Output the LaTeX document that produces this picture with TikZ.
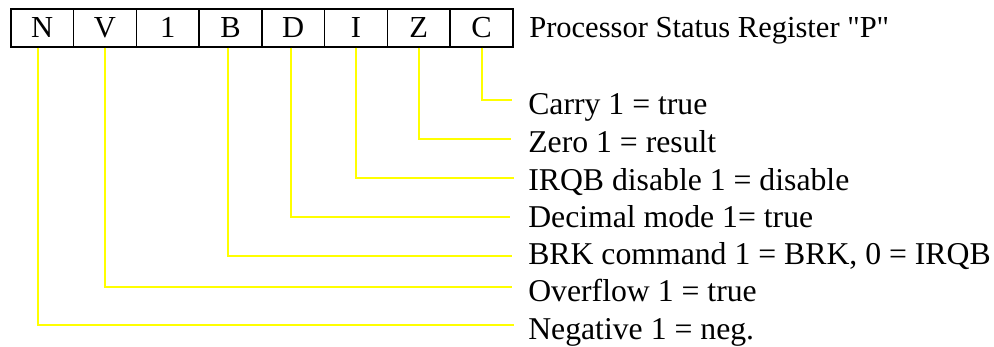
\documentclass[tikz,border=0pt]{standalone}
\usepackage{fontspec}
\setmainfont{Liberation Serif}
\newfontfamily\hdrfont{Liberation Serif}[Ligatures=TeXOff]
\begin{document}
\begin{tikzpicture}[x=0.75pt,y=-0.75pt,
  cellbox/.style={draw=black,line width=1.3pt,minimum width=62.75*0.75pt,minimum height=38*0.75pt,inner sep=0pt,anchor=north west,font=\fontsize{22.9pt}{26pt}\selectfont},
  hdrtext/.style={anchor=base west,inner sep=0pt,font=\hdrfont\fontsize{22.9pt}{26pt}\selectfont},
  lbl/.style={anchor=base west,inner sep=0pt,font=\fontsize{23.8pt}{27pt}\selectfont},
  flag/.style={draw={rgb,255:red,255;green,255;blue,0},line width=1.5pt}]
\useasboundingbox (0,0) rectangle (994,346);
\foreach \n/\t [count=\i from 0] in {N/N,V/V,one/1,B/B,D/D,I/I,Z/Z,C/C}
  \node[cellbox] (\n) at ({10+62.75*\i},8) {\t};
\node[hdrtext] (hdr) at (529,38) {Processor Status Register "P"};
\node[lbl] (lC) at (528,114.5) {Carry 1 = true};
\node[lbl] (lZ) at (528,152.5) {Zero 1 = result};
\node[lbl] (lI) at (528,190) {IRQB disable 1 = disable};
\node[lbl] (lD) at (528,227) {Decimal mode 1= true};
\node[lbl] (lB) at (528,264) {BRK command 1 = BRK, 0 = IRQB};
\node[lbl] (lV) at (528,301.5) {Overflow 1 = true};
\node[lbl] (lN) at (528,339) {Negative 1 = neg.};
\coordinate (eC) at (512,100);
\coordinate (eZ) at (511,139);
\coordinate (eI) at (514,178);
\coordinate (eD) at (510,217);
\coordinate (eB) at (512,256);
\coordinate (eV) at (512,287);
\coordinate (eN) at (514,325);
\draw[flag] (C.south) |- (eC);
\draw[flag] (Z.south) |- (eZ);
\draw[flag] (I.south) |- (eI);
\draw[flag] ([xshift=-2*0.75pt]D.south) |- (eD);
\draw[flag] ([xshift=-2.5*0.75pt]B.south) |- (eB);
\draw[flag] (V.south) |- (eV);
\draw[flag] ([xshift=-4.5*0.75pt]N.south) |- (eN);
\end{tikzpicture}
\end{document}
